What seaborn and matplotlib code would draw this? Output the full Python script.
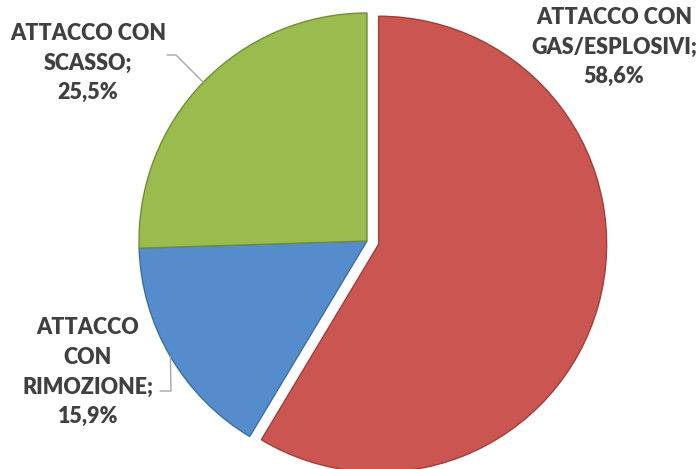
import numpy as np
import seaborn as sns
import matplotlib.pyplot as plt

# slice data (clockwise from 12 o'clock)
categories = ["ATTACCO CON\nGAS/ESPLOSIVI;", "ATTACCO\nCON\nRIMOZIONE;", "ATTACCO CON\nSCASSO;"]
values = [58.6, 15.9, 25.5]
colors = ["#CB5651", "#558DCC", "#9ABC4F"]
edges = ["#A03E3A", "#3D6EA3", "#718D36"]

sns.set_theme(style="white")
plt.rcParams['font.family'] = ['Lato', 'DejaVu Sans']

fig = plt.figure(figsize=(6.99, 4.69), dpi=100)
ax = fig.add_axes([0, 0, 1, 1])

R = 228.0          # pie radius in px
CX, CY = 367, 241  # pie centre in px, from top-left

explode = [0.053, 0, 0]
wedges, _ = ax.pie(values, colors=colors, startangle=90, counterclock=False,
                   explode=explode, radius=1.0,
                   wedgeprops=dict(linewidth=1.0))
for w, ec in zip(wedges, edges):
    w.set_edgecolor(ec)

ax.set_xlim(-CX / R, (699 - CX) / R)
ax.set_ylim(-(469 - CY) / R, CY / R)
ax.set_aspect('equal')
ax.axis('off')

def px(x, y):
    return (x - CX) / R, (CY - y) / R

txt = dict(ha='center', va='center', fontsize=15.5, fontweight='heavy',
           color='#404040', linespacing=1.52)

def lbl(i):
    return f"{categories[i]}\n{values[i]:.1f}%".replace('.', ',')

# red label (no leader)
ax.text(*px(614, 47), lbl(0), **txt)
# blue label
ax.text(*px(88, 372), lbl(1), **txt)
# green label
ax.text(*px(88, 63), lbl(2), **txt)

def mid_point(w):
    th = np.deg2rad((w.theta1 + w.theta2) / 2)
    cx, cy = w.center
    return cx + w.r * np.cos(th), cy + w.r * np.sin(th)

# leader lines
gx, gy = mid_point(wedges[2])
e1 = px(167, 55)
e2 = px(176, 55)
ax.plot([e1[0], e2[0], gx], [e1[1], e2[1], gy], color='#A6A6A6', lw=1)

bx, by = mid_point(wedges[1])
e1 = px(160, 391)
e2 = px(171, 391)
ax.plot([e1[0], e2[0], bx], [e1[1], e2[1], by], color='#A6A6A6', lw=1)

fig.savefig("out.png", dpi=100)
